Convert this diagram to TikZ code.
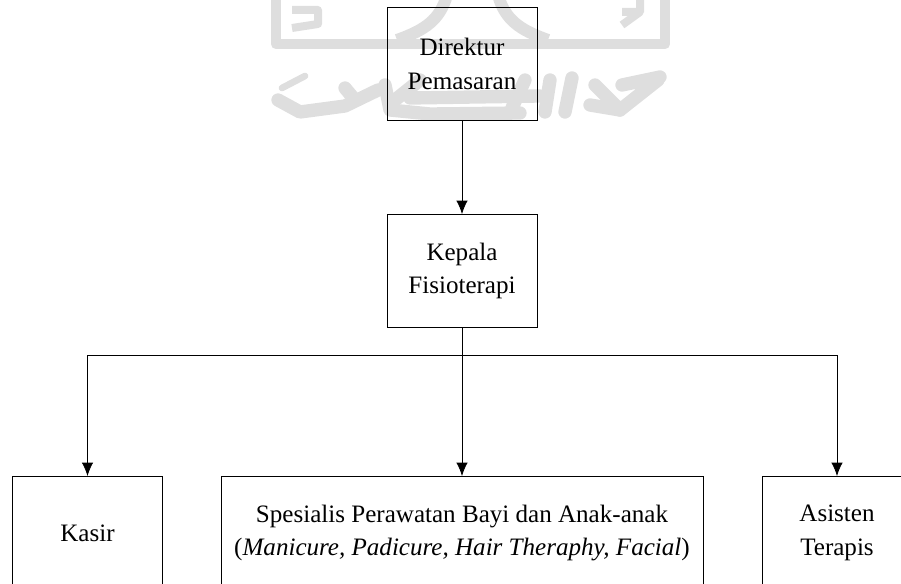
\documentclass[tikz,border=0pt]{standalone}
\usepackage{fontspec}
\setmainfont{Liberation Serif}
\usetikzlibrary{arrows.meta}
\tikzset{
    jabatan/.style={draw,line width=0.75pt,align=center,minimum height=84.75pt,font=\fontsize{18.8}{25}\selectfont},
    panah/.style={line width=0.6pt,-{Latex[length=10pt,width=8.5pt]}},
    logo/.style={draw=black!13,line width=8pt,line join=round},
    logotulis/.style={draw=black!13,line width=10pt,line cap=round,line join=round}
}
\begin{document}
\begin{tikzpicture}[x=0.75pt,y=-0.75pt]
        \useasboundingbox (0,0) rectangle (901,584);
        \clip (0,0) rectangle (901,584);
        % watermark
        \draw[logo] (276,-5) -- (276,44) -- (665,44) -- (665,-5);
        \draw[logo,line width=6pt] (292,10) -- (318,10) -- (318,24) -- (292,28);
        \draw[logo,line width=9pt] (447,-5) .. controls (440,20) and (425,30) .. (397,40);
        \draw[logo,line width=9pt] (498,-5) .. controls (505,20) and (520,30) .. (548,40);
        \draw[logo,line width=6pt] (640,-2) -- (640,12) -- (622,25) (622,12) -- (640,12);
        \draw[logotulis,line width=5pt] (282,88) -- (305,76);
        \draw[logotulis] (278,100) -- (300,112) -- (345,106) -- (378,90);
        \draw[logotulis] (345,88) -- (355,100) (385,85) -- (390,110) -- (430,114) -- (520,113);
        \draw[logotulis] (420,80) -- (395,100) (410,98) -- (540,96) (525,80) -- (512,108);
        \draw[logotulis] (550,80) -- (545,112) (572,78) -- (565,112) (590,105) -- (620,110);
        \draw[logotulis] (595,85) -- (620,110) -- (658,80) (622,85) -- (660,77);
        % boxes
        \node[jabatan,minimum width=112.5pt] (direktur) at (462,64) {Direktur\\Pemasaran};
        \node[jabatan,minimum width=112.5pt] (kepala) at (462,271) {Kepala\\Fisioterapi};
        \node[jabatan,minimum width=113pt] (kasir) at (87.5,533) {Kasir};
        \node[jabatan,minimum width=361.5pt] (spesialis) at (462,533) {Spesialis Perawatan Bayi dan Anak-anak\\(\textit{Manicure, Padicure, Hair Theraphy, Facial})};
        \node[jabatan,minimum width=112.5pt] (asisten) at (837,533) {Asisten\\Terapis};
        % connectors
        \coordinate (cabang) at (462,355);
        \draw[panah] (direktur) -- (kepala);
        \draw[panah] (kepala) -- (spesialis);
        \draw[panah] (cabang) -| (kasir.north);
        \draw[panah] (cabang) -| (asisten.north);
\end{tikzpicture}
\end{document}
